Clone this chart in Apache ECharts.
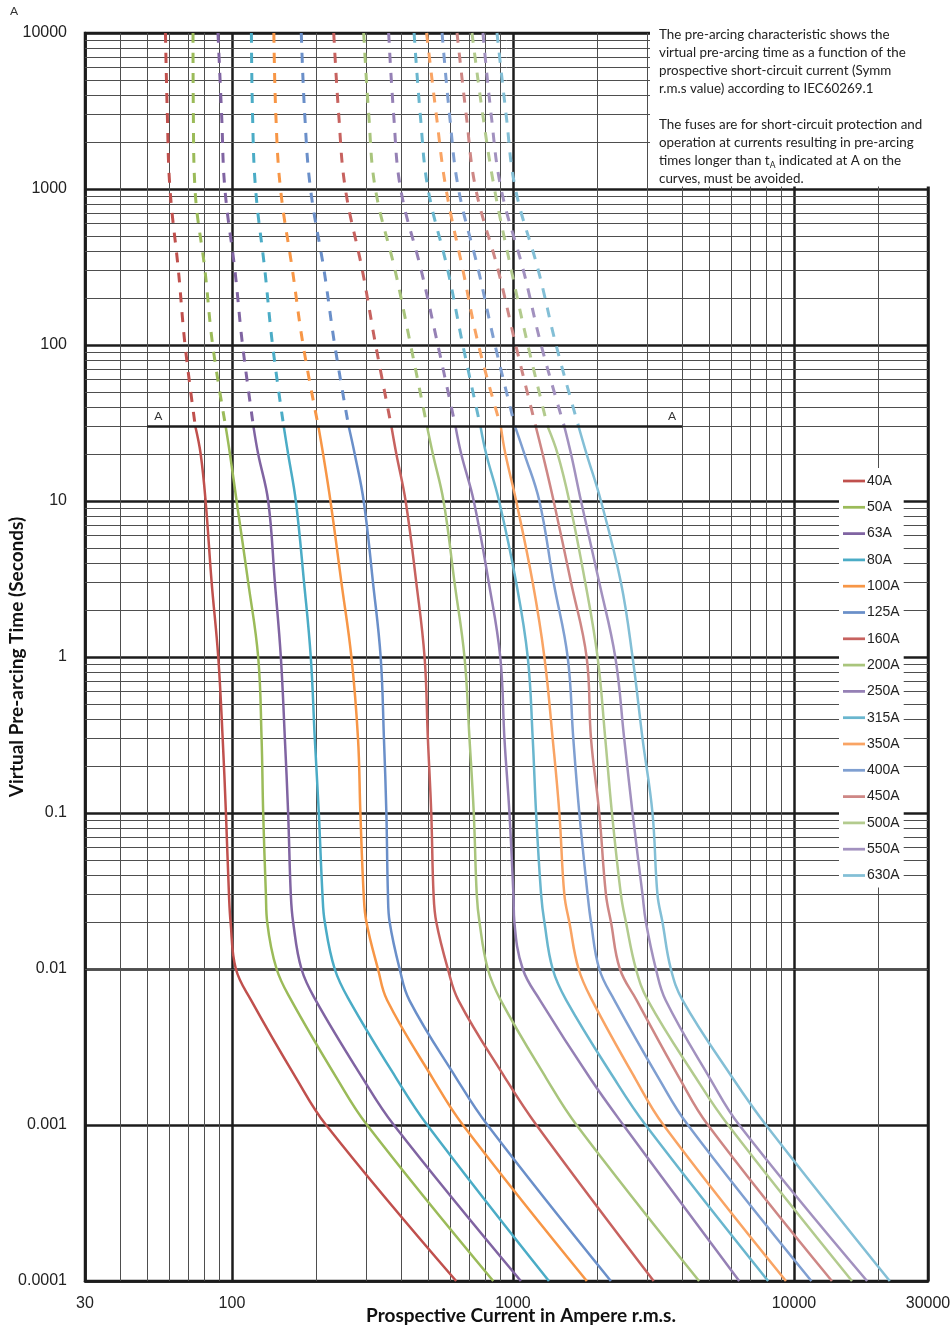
<!DOCTYPE html>
<html><head><meta charset="utf-8">
<script src="https://cdn.jsdelivr.net/npm/echarts@6/dist/echarts.min.js"></script>
<style>html,body{margin:0;padding:0;background:#fff}#c{width:952px;height:1331px}</style>
</head><body><div id="c"></div>
<script>
// ---- data ----
const fuseNames = ['40A','50A','63A','80A','100A','125A','160A','200A','250A','315A','350A','400A','450A','500A','550A','630A'];
const fuseColors = ['#C0504D','#9BBB59','#8064A2','#4BACC6','#F79646','#6A8FC9','#C7625F','#A9C57C','#9580B5','#69B6CE','#F9A464','#7F9FD1','#CE8785','#B3CB8E','#A291BF','#83BFD6'];

// times (s) for dashed part (above t_A) and solid part
const tDash  = [10000, 3000, 1000, 300, 100, 30];
const tSolid = [30, 20, 10, 3, 1, 0.3, 0.1, 0.03, 0.02, 0.01, 0.0063, 0.002, 0.001, 0.0001];

// prospective current (A) read at the times above
const dash40A  = [58.0, 58.9, 60.2, 64.5, 68.1, 74.1];
const solid40A = [74.1, 77.4, 80.6, 84.7, 89.4, 92.7, 95.2, 97.6, 98.9, 103.3, 117.1, 169.2, 216.3, 628];
const dash50A  = [72.7, 72.9, 73.9, 80.2, 85.4, 95.0];
const solid50A = [95.0, 98.4, 103.9, 114.3, 124.0, 127.5, 129.2, 132.1, 133.5, 144.2, 162.7, 236.0, 302.7, 851];
const dash63A  = [89.2, 91.9, 94.4, 102.5, 109.1, 119.3];
const solid63A = [119.3, 124.0, 134.6, 142.2, 149.3, 154.3, 158.5, 162.0, 165.1, 176.8, 198.8, 291.7, 376.9, 1067];
const dash80A  = [117.3, 118.4, 121.4, 131.0, 139.5, 152.9];
const solid80A = [152.9, 158.5, 168.8, 180.6, 190.8, 197.2, 203.8, 210.0, 214.0, 232.2, 261.7, 384.1, 495.6, 1343];
const dash100A  = [141.0, 143.3, 148.9, 164.3, 179.2, 203.1];
const solid100A = [203.1, 211.1, 224.2, 245.3, 266.2, 281.0, 286.5, 294.4, 301.0, 330.9, 356.8, 517.6, 663.7, 1832];
const dash125A  = [176.5, 181.6, 190.4, 212.8, 232.2, 260.4];
const solid125A = [260.4, 273.5, 294.4, 317.7, 338.3, 347.5, 354.5, 359.1, 364.1, 395.3, 428.2, 628.4, 811.8, 2231];
const dash160A  = [230.3, 239.9, 253.4, 291.3, 324.7, 369.5];
const solid160A = [369.5, 384.7, 415.1, 453.0, 484.8, 498.1, 512.1, 521.9, 533.6, 586.8, 639.7, 938.9, 1212, 3169];
const dash200A  = [294.4, 306.8, 324.0, 380.9, 432.4, 494.8];
const solid200A = [494.8, 518.9, 566.4, 619.8, 672.4, 700.5, 725.5, 743.5, 760.2, 813.9, 905.2, 1313, 1684, 4597];
const dash250A  = [361.2, 376.3, 398.5, 471.9, 540.6, 624.8];
const solid250A = [624.8, 654.6, 725.5, 820.4, 901.5, 932.8, 971.8, 1004, 1012, 1084, 1249, 1880, 2471, 6387];
const dash315A  = [444.9, 468.0, 498.9, 586.8, 663.3, 766.6];
const solid315A = [766.6, 803.3, 892.7, 1027, 1129, 1176, 1209, 1260, 1294, 1385, 1549, 2287, 2966, 8095];
const dash350A  = [492.8, 533.6, 578.1, 664.3, 754.2, 905.7];
const solid350A = [905.7, 940.4, 1027, 1176, 1294, 1385, 1463, 1524, 1587, 1713, 1914, 2718, 3434, 9367];
const dash400A  = [559.5, 594.8, 640.3, 754.2, 863.4, 1018];
const solid400A = [1018, 1099, 1242, 1396, 1566, 1640, 1723, 1844, 1896, 2029, 2298, 3299, 4195, 11540];
const dash450A  = [632.5, 681.8, 737.6, 886.8, 1023, 1206];
const solid450A = [1206, 1276, 1396, 1610, 1829, 1896, 2029, 2143, 2233, 2403, 2757, 3913, 4944, 13650];
const dash500A  = [715.0, 780.9, 859.8, 987.9, 1130, 1329];
const solid500A = [1329, 1443, 1587, 1809, 2001, 2131, 2251, 2423, 2524, 2740, 3022, 4483, 5830, 16090];
const dash550A  = [782.1, 836.6, 908.0, 1090, 1260, 1524];
const solid550A = [1524, 1610, 1747, 2029, 2313, 2489, 2665, 2892, 2973, 3227, 3496, 5018, 6387, 18210];
const dash630A  = [877.6, 945.7, 1021, 1232, 1424, 1713];
const solid630A = [1713, 1829, 2057, 2423, 2665, 2892, 3138, 3269, 3405, 3648, 4018, 6052, 7951, 21930];

const dashCurrents  = [dash40A, dash50A, dash63A, dash80A, dash100A, dash125A, dash160A, dash200A, dash250A, dash315A, dash350A, dash400A, dash450A, dash500A, dash550A, dash630A];
const solidCurrents = [solid40A, solid50A, solid63A, solid80A, solid100A, solid125A, solid160A, solid200A, solid250A, solid315A, solid350A, solid400A, solid450A, solid500A, solid550A, solid630A];

// t_A line
const aLineTime = 30;
const aLineCurrents = [50, 4000];

// minor grid positions
const xMinorGrid = [40,50,60,70,80,90, 200,300,400,500,600,700,800,900, 2000,3000,4000,5000,6000,7000,8000,9000, 20000];
const yMinorGrid = [
  0.0002,0.0003,0.0004,0.0005,0.0006,0.0007,0.0008,0.0009,
  0.002,0.003,0.004,0.005,0.006,0.007,0.008,0.009,
  0.02,0.03,0.04,0.05,0.06,0.07,0.08,0.09,
  0.2,0.3,0.4,0.5,0.6,0.7,0.8,0.9,
  2,3,4,5,6,7,8,9,
  20,30,40,50,60,70,80,90,
  200,300,400,500,600,700,800,900,
  2000,3000,4000,5000,6000,7000,8000,9000
];

const noteLines1 = [
  'The pre-arcing characteristic shows the',
  'virtual pre-arcing time as a function of the',
  'prospective short-circuit current (Symm',
  'r.m.s value) according to IEC60269.1'
];
const noteLines2 = [
  'The fuses are for short-circuit protection and',
  'operation at currents resulting in pre-arcing',
  'times longer than t{sub|A} indicated at A on the',
  'curves, must be avoided.'
];

// ---- chart ----
const chart = echarts.init(document.getElementById('c'), null, {renderer: 'canvas'});
const fmt = v => String(parseFloat(Number(v).toPrecision(6)));
const INK = '#1c1c1c';

const series = [];
series.push({
  type: 'line', name: '_grid', data: [[30, 0.0001]], symbol: 'none', silent: true, z: 1,
  lineStyle: {width: 0, opacity: 0},
  markLine: {
    silent: true, z: 1, symbol: ['none', 'none'], label: {show: false}, animation: false,
    emphasis: {disabled: true},
    lineStyle: {color: '#4e4e4e', width: 1, type: 'solid'},
    data: xMinorGrid.map(v => ({xAxis: v})).concat(yMinorGrid.map(v => ({yAxis: v})))
  }
});
fuseNames.forEach((n, k) => {
  series.push({
    type: 'line', name: n, z: 3, symbol: 'none', smooth: 0.4,
    data: tSolid.map((t, i) => [solidCurrents[k][i], t]),
    lineStyle: {color: fuseColors[k], width: 2.5}, itemStyle: {color: fuseColors[k]},
    emphasis: {disabled: true}
  });
});
fuseNames.forEach((n, k) => {
  series.push({
    type: 'line', name: n, z: 3, symbol: 'none', smooth: 0.4,
    data: tDash.map((t, i) => [dashCurrents[k][i], t]),
    lineStyle: {color: fuseColors[k], width: 3, type: [10, 10]}, itemStyle: {color: fuseColors[k]},
    emphasis: {disabled: true}
  });
});
series.push({
  type: 'line', name: '_A', z: 4, symbol: 'circle', symbolSize: 0, showSymbol: true,
  lineStyle: {color: INK, width: 2.5}, itemStyle: {color: INK},
  emphasis: {disabled: true},
  data: [
    {value: [aLineCurrents[0], aLineTime], label: {show: true, formatter: 'A', position: 'top', distance: 4, offset: [11, 0]}},
    {value: [aLineCurrents[1], aLineTime], label: {show: true, formatter: 'A', position: 'top', distance: 4, offset: [-10, 0]}}
  ],
  label: {color: '#333', fontSize: 12, fontFamily: 'Lato'}
});

chart.setOption({
  animation: false,
  backgroundColor: '#fff',
  grid: {left: 85, right: 24, top: 33, bottom: 50, show: true, borderColor: INK, borderWidth: 2.5, containLabel: false, outerBoundsMode: 'none'},
  xAxis: {
    type: 'log', logBase: 10, min: 30, max: 30000, splitNumber: 3,
    axisLine: {show: true, lineStyle: {color: INK, width: 2.5}},
    axisTick: {show: false},
    axisLabel: {formatter: fmt, color: '#222', fontSize: 16, fontFamily: 'Liberation Sans', margin: 15, showMinLabel: true, showMaxLabel: true},
    splitLine: {show: true, lineStyle: {color: INK, width: 2.5}},
    name: 'Prospective Current in Ampere r.m.s.', nameLocation: 'middle', nameGap: 25, nameMoveOverlap: false,
    nameTextStyle: {fontFamily: 'Lato', fontWeight: 'bold', fontSize: 19, color: '#111', padding: [0, 0, 0, 29]}
  },
  yAxis: {
    type: 'log', logBase: 10, min: 0.0001, max: 10000, splitNumber: 8,
    axisLine: {show: true, lineStyle: {color: INK, width: 2.5}},
    axisTick: {show: false},
    axisLabel: {formatter: fmt, color: '#222', fontSize: 16, fontFamily: 'Liberation Sans', margin: 18, showMinLabel: true, showMaxLabel: true},
    splitLine: {show: true, lineStyle: {color: INK, width: 2.5}},
    name: 'Virtual Pre-arcing Time (Seconds)', nameLocation: 'middle', nameGap: 59, nameMoveOverlap: false,
    nameTextStyle: {fontFamily: 'Lato', fontWeight: 'bold', fontSize: 19, color: '#111'}
  },
  legend: {
    data: fuseNames, orient: 'vertical', left: 839, top: 468,
    padding: [6, 4, 5, 4], itemWidth: 22, itemHeight: 14, itemGap: 12.3,
    icon: 'path://M0,0L40,0L40,5L0,5Z',
    backgroundColor: '#fff', selectedMode: false, z: 10,
    textStyle: {fontSize: 14, fontFamily: 'Liberation Sans', color: '#222', lineHeight: 14, padding: [0, 0, 0, -3]}
  },
  series: series,
  graphic: [
    {type: 'rect', silent: true, z: 100, shape: {x: 650, y: 22, width: 302, height: 164.5}, style: {fill: '#fff'}},
    {type: 'text', silent: true, z: 101, x: 659, y: 26,
      style: {text: noteLines1.join('\n'), fill: '#222', fontSize: 13.4, fontFamily: 'Lato', lineHeight: 18, verticalAlign: 'top', align: 'left'}},
    {type: 'text', silent: true, z: 101, x: 659, y: 116,
      style: {text: noteLines2.join('\n'), fill: '#222', fontSize: 13.4, fontFamily: 'Lato', lineHeight: 18, verticalAlign: 'top', align: 'left',
        rich: {sub: {fontSize: 8.5, fontFamily: 'Lato', fill: '#222', lineHeight: 10, verticalAlign: 'bottom'}}}},
    {type: 'text', silent: true, z: 101, x: 10, y: 5,
      style: {text: 'A', fill: '#333', fontSize: 12, fontFamily: 'Lato', verticalAlign: 'top'}}
  ]
});
</script></body></html>
